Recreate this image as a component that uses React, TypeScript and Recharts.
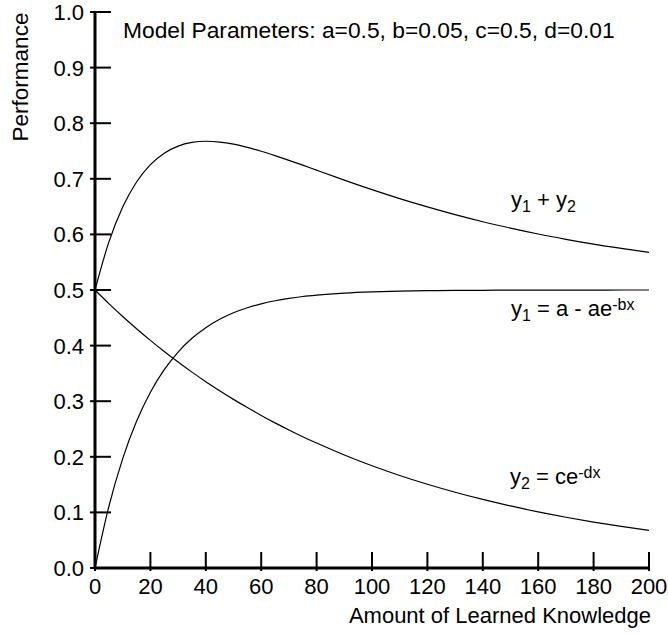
import { LineChart, Line, XAxis, YAxis, Customized } from "recharts";

const FONT = "'Liberation Sans', Arial, Helvetica, sans-serif";

// amount of learned knowledge
const knowledge = [
  0, 5, 10, 15, 20, 25, 30, 35, 40, 45, 50, 55, 60, 65, 70, 75, 80, 90, 100,
  110, 120, 130, 140, 150, 160, 170, 180, 190, 200,
];

// y1 = a - ae^-bx
const y1Values = [
  0, 0.1106, 0.1967, 0.2638, 0.3161, 0.3567, 0.3884, 0.4131, 0.4323, 0.4473,
  0.459, 0.468, 0.4751, 0.4806, 0.4849, 0.4883, 0.4908, 0.4944, 0.4966, 0.498,
  0.4988, 0.4992, 0.4995, 0.4997, 0.4998, 0.4999, 0.4999, 0.5, 0.5,
];

// y2 = ce^-dx
const y2Values = [
  0.5, 0.4756, 0.4524, 0.4304, 0.4094, 0.3894, 0.3704, 0.3523, 0.3352, 0.3188,
  0.3033, 0.2885, 0.2744, 0.261, 0.2483, 0.2362, 0.2247, 0.2033, 0.1839,
  0.1664, 0.1506, 0.1363, 0.1233, 0.1116, 0.1009, 0.0913, 0.0826, 0.0748,
  0.0677,
];

// y1 + y2
const sumValues = [
  0.5, 0.5862, 0.6491, 0.6942, 0.7255, 0.7461, 0.7588, 0.7654, 0.7675, 0.7661,
  0.7623, 0.7565, 0.7495, 0.7416, 0.7332, 0.7245, 0.7155, 0.6977, 0.6805,
  0.6644, 0.6494, 0.6355, 0.6228, 0.6113, 0.6007, 0.5912, 0.5825, 0.5748,
  0.5677,
];

const xTicks = [0, 20, 40, 60, 80, 100, 120, 140, 160, 180, 200];
const yTicks = [0, 0.1, 0.2, 0.3, 0.4, 0.5, 0.6, 0.7, 0.8, 0.9, 1.0];

const data = knowledge.map((x, i) => ({
  x,
  y1: y1Values[i],
  y2: y2Values[i],
  sum: sumValues[i],
}));

const YTick = (props: any) => {
  const { x, y, payload } = props;
  return (
    <g>
      <line x1={x - 5} x2={x + 16} y1={y} y2={y} stroke="#000" strokeWidth={2} />
      <text x={x - 11} y={y} dy="0.36em" textAnchor="end" fontSize={22} fontFamily={FONT} fill="#000">
        {Number(payload.value).toFixed(1)}
      </text>
    </g>
  );
};

const XTick = (props: any) => {
  const { x, y, payload } = props;
  return (
    <g>
      <line x1={x} x2={x} y1={y - 16} y2={y + 3} stroke="#000" strokeWidth={2} />
      <text x={x} y={y + 26} textAnchor="middle" fontSize={22} fontFamily={FONT} fill="#000">
        {payload.value}
      </text>
    </g>
  );
};

const Annotations = () => (
  <g fontFamily={FONT} fill="#000">
    <text x={123} y={38} fontSize={22.8}>
      Model Parameters: a=0.5, b=0.05, c=0.5, d=0.01
    </text>
    <text x={28} y={77} fontSize={22.5} textAnchor="middle" transform="rotate(-90 28 77)">
      Performance
    </text>
    <text x={651} y={623} fontSize={22} textAnchor="end">
      Amount of Learned Knowledge
    </text>
    <text x={511} y={207} fontSize={22}>
      y<tspan fontSize={16} dy={5}>1</tspan>
      <tspan dy={-5}> + y</tspan>
      <tspan fontSize={16} dy={5}>2</tspan>
    </text>
    <text x={511} y={316} fontSize={22}>
      y<tspan fontSize={16} dy={5}>1</tspan>
      <tspan dy={-5}> = a - ae</tspan>
      <tspan fontSize={16} dy={-6}>-bx</tspan>
    </text>
    <text x={510} y={484} fontSize={22}>
      y<tspan fontSize={16} dy={5}>2</tspan>
      <tspan dy={-5}> = ce</tspan>
      <tspan fontSize={16} dy={-6}>-dx</tspan>
    </text>
  </g>
);

export default function App() {
  return (
    <div style={{ position: "absolute", left: 0, top: 0, width: 668, height: 634, background: "#fff" }}>
      <LineChart width={668} height={634} data={data} margin={{ top: 12, right: 19, bottom: 0, left: 0 }}>
        <XAxis
          dataKey="x"
          type="number"
          domain={[0, 200]}
          ticks={xTicks}
          height={66}
          tickSize={0}
          tickMargin={0}
          tickLine={false}
          axisLine={{ stroke: "#000", strokeWidth: 3 }}
          tick={<XTick />}
          interval={0}
        />
        <YAxis
          type="number"
          domain={[0, 1]}
          ticks={yTicks}
          width={95}
          tickSize={0}
          tickMargin={0}
          tickLine={false}
          axisLine={{ stroke: "#000", strokeWidth: 3 }}
          tick={<YTick />}
          interval={0}
        />
        <Line dataKey="sum" type="monotone" stroke="#000" strokeWidth={1.2} dot={false} isAnimationActive={false} />
        <Line dataKey="y1" type="monotone" stroke="#000" strokeWidth={1.2} dot={false} isAnimationActive={false} />
        <Line dataKey="y2" type="monotone" stroke="#000" strokeWidth={1.2} dot={false} isAnimationActive={false} />
        <Customized component={Annotations} />
      </LineChart>
    </div>
  );
}
